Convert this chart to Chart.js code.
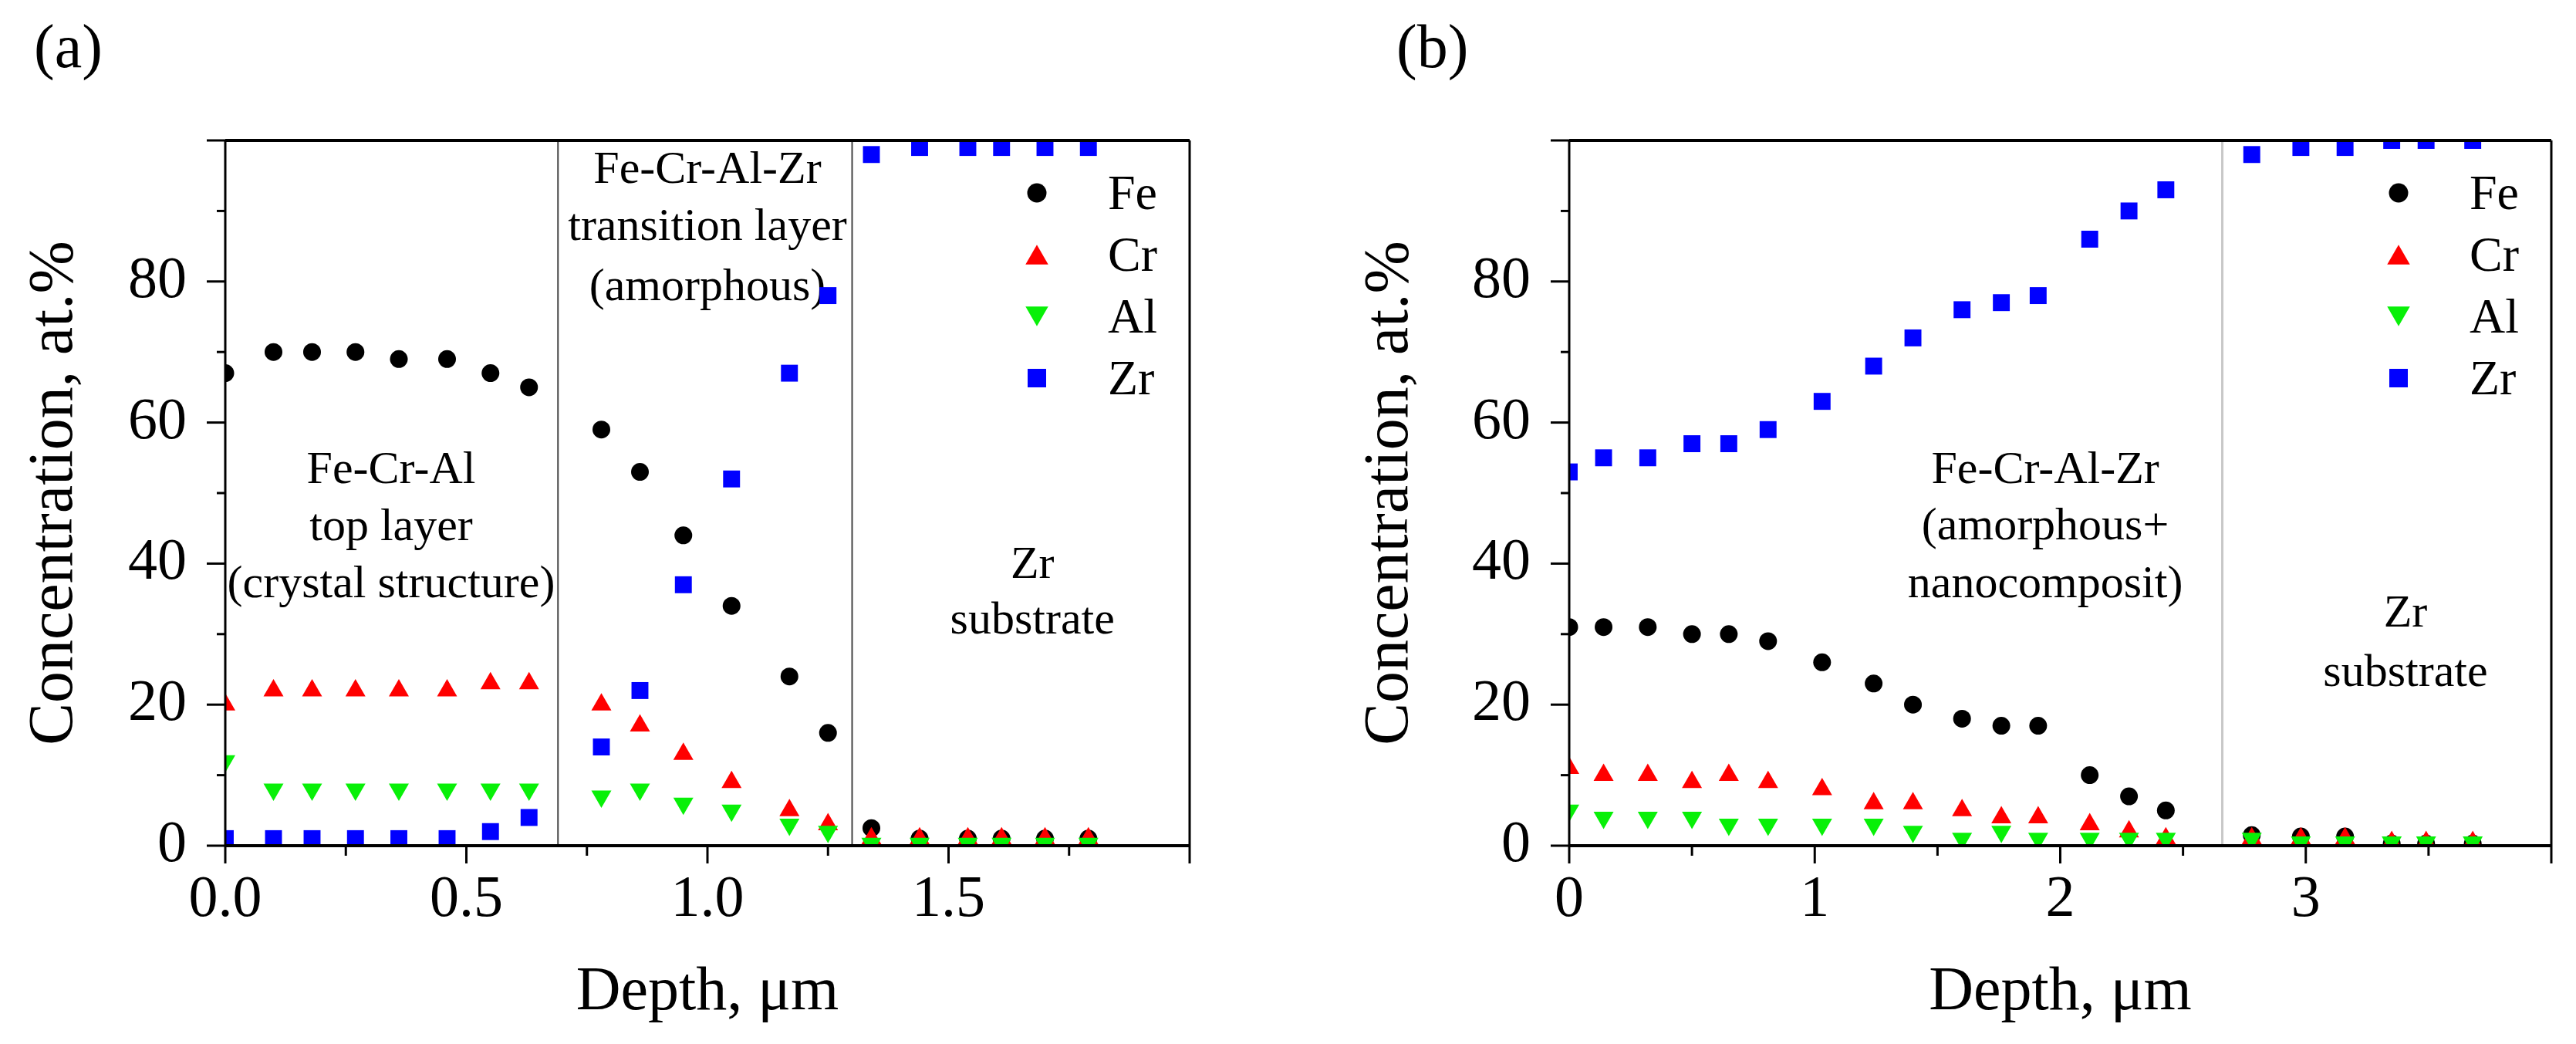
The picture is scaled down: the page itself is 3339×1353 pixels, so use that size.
<!DOCTYPE html>
<html>
<head>
<meta charset="utf-8">
<script src="https://cdn.jsdelivr.net/npm/chart.js@4.4.1/dist/chart.umd.min.js"></script>
<style>
  html, body { margin: 0; padding: 0; background: #fff; }
  body { width: 3339px; height: 1353px; position: relative; overflow: hidden; }
  canvas { position: absolute; top: 0; }
</style>
</head>
<body>
<canvas id="chartA" width="1700" height="1353" style="left:0"></canvas>
<canvas id="chartB" width="1609" height="1353" style="left:1730px"></canvas>
<script>
// (a) depth profile
var depthA = [0, 0.10, 0.18, 0.27, 0.36, 0.46, 0.55, 0.63, 0.78, 0.86, 0.95, 1.05, 1.17, 1.25, 1.34, 1.44, 1.54, 1.61, 1.70, 1.79];
var feA = [67, 70, 70, 70, 69, 69, 67, 65, 59, 53, 44, 34, 24, 16, 2.5, 1, 1, 1, 1, 1];
var crA = [20, 22, 22, 22, 22, 22, 23, 23, 20, 17, 13, 9, 5, 3, 1, 1, 1, 1, 1, 1];
var alA = [12, 8, 8, 8, 8, 8, 8, 8, 7, 8, 6, 5, 3, 2, 0.3, 0.3, 0.3, 0.3, 0.3, 0.3];
var zrA = [1, 1, 1, 1, 1, 1, 2, 4, 14, 22, 37, 52, 67, 78, 98, 99, 99, 99, 99, 99];

// (b)
var depthB = [0, 0.14, 0.32, 0.50, 0.65, 0.81, 1.03, 1.24, 1.40, 1.60, 1.76, 1.91, 2.12, 2.28, 2.43, 2.78, 2.98, 3.16, 3.35, 3.49, 3.68];
var feB = [31, 31, 31, 30, 30, 29, 26, 23, 20, 18, 17, 17, 10, 7, 5, 1.5, 1.3, 1.3, 0.3, 0.3, 0.3];
var crB = [11, 10, 10, 9, 10, 9, 8, 6, 6, 5, 4, 4, 3, 2, 1, 1, 1, 1, 0.5, 0.5, 0.5];
var alB = [5, 4, 4, 4, 3, 3, 3, 3, 2, 1, 2, 1, 1, 1, 1, 1, 0.5, 0.5, 0.5, 0.5, 0.5];
var zrB = [53, 55, 55, 57, 57, 59, 63, 68, 72, 76, 77, 78, 86, 90, 93, 98, 99, 99, 100, 100, 100];

var elements = ['Fe', 'Cr', 'Al', 'Zr'];
var xTicksA = ['0.0', '0.5', '1.0', '1.5'];
var xTicksB = ['0', '1', '2', '3'];
var yTicks = ['0', '20', '40', '60', '80'];

// layer boundaries, depth in um
var bordersA = [0.69, 1.30];
var bordersB = [2.66];

var FONT = '"Liberation Serif", "Times New Roman", serif';
// r = size in the plot, lr = size in the legend
var markers = [
  {shape: 'circle', r: 11.5, lr: 12.5, rot: 0, color: '#000000'},
  {shape: 'triangle', r: 15, lr: 17, rot: 0, color: '#ff0000'},
  {shape: 'triangle', r: 15, lr: 17, rot: 180, color: '#08f008'},
  {shape: 'rect', r: 15.5, lr: 17, rot: 0, color: '#0000ff'}
];

function extras(p) {
  return {
    id: 'extras',
    beforeDatasetsDraw: function (chart) {
      var ctx = chart.ctx, a = chart.chartArea, sx = chart.scales.x, sy = chart.scales.y;
      ctx.save();
      ctx.strokeStyle = p.borderColor;
      ctx.lineWidth = p.borderWidth;
      p.borders.forEach(function (d) {
        var x = sx.getPixelForValue(d);
        ctx.beginPath(); ctx.moveTo(x, a.top); ctx.lineTo(x, a.bottom); ctx.stroke();
      });
      // layer notes
      ctx.fillStyle = '#000';
      ctx.font = '60px ' + FONT;
      ctx.textAlign = 'center';
      ctx.textBaseline = 'middle';
      p.notes.forEach(function (n) {
        n.lines.forEach(function (t, k) {
          ctx.fillText(t, sx.getPixelForValue(n.x), sy.getPixelForValue(n.y[k]));
        });
      });
      ctx.restore();
    },
    afterDatasetsDraw: function (chart) {
      var ctx = chart.ctx, a = chart.chartArea, sx = chart.scales.x, sy = chart.scales.y;
      ctx.save();
      ctx.strokeStyle = '#000';
      // frame: heavier top/bottom
      ctx.lineWidth = 4;
      ctx.beginPath();
      ctx.moveTo(a.left, a.top); ctx.lineTo(a.right, a.top);
      ctx.moveTo(a.left, a.bottom); ctx.lineTo(a.right, a.bottom);
      ctx.stroke();
      ctx.lineWidth = 3;
      ctx.beginPath();
      ctx.moveTo(a.left, a.top); ctx.lineTo(a.left, a.bottom);
      ctx.moveTo(a.right, a.top); ctx.lineTo(a.right, a.bottom);
      ctx.stroke();
      // ticks, major and minor, outward
      var n = Math.round(p.xMax / p.xMinor);
      for (var k = 0; k <= n; k++) {
        var x = sx.getPixelForValue(k * p.xMinor);
        var len = k % 2 === 0 ? 23 : 13;
        ctx.beginPath(); ctx.moveTo(x, a.bottom); ctx.lineTo(x, a.bottom + len); ctx.stroke();
      }
      for (var v = 0; v <= 100; v += 10) {
        var y = sy.getPixelForValue(v);
        var l = v % 20 === 0 ? 24 : 11;
        ctx.beginPath(); ctx.moveTo(a.left, y); ctx.lineTo(a.left - l, y); ctx.stroke();
      }
      // legend
      ctx.font = '64px ' + FONT;
      ctx.textAlign = 'left';
      ctx.textBaseline = 'alphabetic';
      elements.forEach(function (name, i) {
        var m = markers[i];
        var rowY = a.top + 68 + i * 80;
        var off = m.shape === 'triangle' ? (m.rot ? -m.lr / 4 : m.lr / 4) : 0;
        ctx.fillStyle = m.color;
        Chart.helpers.drawPoint(ctx, {pointStyle: m.shape, radius: m.lr, rotation: m.rot, borderWidth: 0},
          a.right - 198, rowY + off);
        ctx.fillStyle = '#000';
        ctx.fillText(name, a.right - 106, rowY + 21);
      });
      // panel letter
      ctx.font = '80px ' + FONT;
      ctx.fillText(p.letter, p.letterX, 87);
      ctx.restore();
    }
  };
}

function makePanel(id, p) {
  var series = [p.fe, p.cr, p.al, p.zr];
  var sets = series.map(function (vals, i) {
    var m = markers[i];
    return {
      label: elements[i],
      data: vals.map(function (v, k) { return {x: p.depth[k], y: v}; }),
      pointStyle: m.shape,
      pointRadius: m.r,
      pointRotation: m.rot,
      pointBackgroundColor: m.color,
      pointBorderWidth: 0,
      backgroundColor: m.color,
      borderColor: m.color,
      showLine: false,
      order: 4 - i,
      clip: 0
    };
  });

  new Chart(document.getElementById(id), {
    type: 'scatter',
    data: {datasets: sets},
    options: {
      responsive: false,
      animation: false,
      devicePixelRatio: 1,
      events: [],
      layout: {padding: {top: 182, right: p.padRight, left: 0, bottom: 0}},
      plugins: {legend: {display: false}, tooltip: {enabled: false}},
      scales: {
        x: {
          type: 'linear', min: 0, max: p.xMax,
          grid: {display: false, drawTicks: false},
          border: {display: false},
          ticks: {
            stepSize: p.xStep, padding: 25, maxRotation: 0, autoSkip: false,
            color: '#000', font: {family: FONT, size: 76},
            callback: function (v) {
              var i = Math.round(v / p.xStep);
              return i < p.xLabels.length ? p.xLabels[i] : '';
            }
          },
          title: {display: true, text: 'Depth, μm', color: '#000',
            font: {family: FONT, size: 80}, padding: {top: 0, bottom: 18}},
          afterFit: function (s) { s.height = 257; }
        },
        y: {
          min: 0, max: 100,
          grid: {display: false, drawTicks: false},
          border: {display: false},
          ticks: {
            stepSize: 20, padding: 50, autoSkip: false,
            color: '#000', font: {family: FONT, size: 76},
            callback: function (v) {
              var i = Math.round(v / 20);
              return i < yTicks.length ? yTicks[i] : '';
            }
          },
          title: {display: true, text: 'Concentration, at.%', color: '#000',
            font: {family: FONT, size: 82}, padding: {top: p.titlePad, bottom: 0}},
          afterFit: function (s) { s.width = p.yWidth; }
        }
      }
    },
    plugins: [extras(p)]
  });
}

makePanel('chartA', {
  depth: depthA, fe: feA, cr: crA, al: alA, zr: zrA,
  xMax: 2, xStep: 0.5, xMinor: 0.25, xLabels: xTicksA,
  padRight: 158, yWidth: 292, titlePad: 22,
  borders: bordersA, borderColor: '#444', borderWidth: 2,
  letter: '(a)', letterX: 44,
  notes: [
    {x: 1.0, y: [95.7, 87.6, 79.1], lines: ['Fe-Cr-Al-Zr', 'transition layer', '(amorphous)']},
    {x: 0.344, y: [53.1, 45.0, 36.9], lines: ['Fe-Cr-Al', 'top layer', '(crystal structure)']},
    {x: 1.674, y: [39.7, 31.8], lines: ['Zr', 'substrate']}
  ]
});

makePanel('chartB', {
  depth: depthB, fe: feB, cr: crB, al: alB, zr: zrB,
  xMax: 4, xStep: 1, xMinor: 0.5, xLabels: xTicksB,
  padRight: 32, yWidth: 304, titlePad: 23,
  borders: bordersB, borderColor: '#c8c8c8', borderWidth: 3,
  letter: '(b)', letterX: 80,
  notes: [
    {x: 1.939, y: [53.1, 45.2, 36.9], lines: ['Fe-Cr-Al-Zr', '(amorphous+', 'nanocomposit)']},
    {x: 3.406, y: [32.8, 24.4], lines: ['Zr', 'substrate']}
  ]
});
</script>
</body>
</html>
